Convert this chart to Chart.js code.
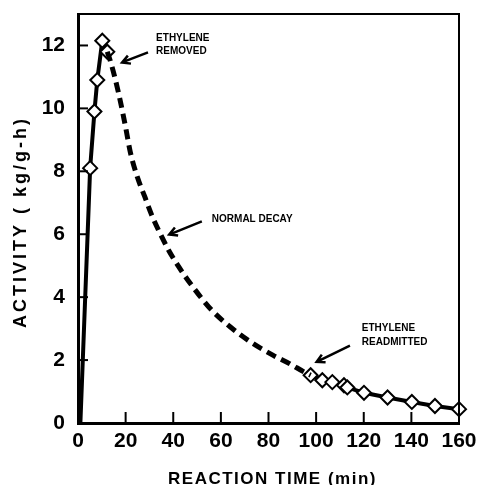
<!DOCTYPE html>
<html>
<head>
<meta charset="utf-8">
<script src="https://cdn.jsdelivr.net/npm/chart.js@4"></script>
<style>
  html, body { margin: 0; padding: 0; background: #fff; }
  #wrap { width: 484px; height: 485px; }
</style>
</head>
<body>
<div id="wrap"><canvas id="activity"></canvas></div>
<script>
// ethylene on: activity climbs
const riseTime = [1, 5.1, 6.9, 8.1, 10.2, 12.3];
const riseActivity = [0, 8.1, 9.9, 10.9, 12.15, 11.8];

// ethylene removed: normal decay (dashed)
const decayTime = [12.3, 14, 17, 20, 22, 25, 28, 31, 34, 38, 42, 48, 56, 64, 73, 82, 89, 95, 97.7];
const decayActivity = [11.8, 11.4, 10.5, 9.4, 8.6, 7.8, 7.2, 6.6, 6.1, 5.5, 5.0, 4.35, 3.6, 3.05, 2.55, 2.15, 1.88, 1.62, 1.52];

// ethylene readmitted
const readmitTime = [97.7, 102.6, 106.8, 111.7, 113.1, 120.1, 130, 140.2, 149.9, 160];
const readmitActivity = [1.52, 1.36, 1.3, 1.2, 1.13, 0.96, 0.81, 0.67, 0.54, 0.44];

const xTicks = [0, 20, 40, 60, 80, 100, 120, 140, 160];
const yTicks = [0, 2, 4, 6, 8, 10, 12];

const xTitle = "REACTION TIME (min)";
const yTitle = "ACTIVITY ( kg/g-h)";

const notes = [
  { lines: ["ETHYLENE", "REMOVED"], x: 32.8, y: 12.24, from: [29.4, 11.78], to: [18.5, 11.46] },
  { lines: ["NORMAL DECAY"], x: 56.2, y: 6.49, from: [52.0, 6.41], to: [38.3, 5.99] },
  { lines: ["ETHYLENE", "READMITTED"], x: 119.2, y: 3.0, from: [114.2, 2.46], to: [100.2, 1.94] },
];

const FONT = "'Liberation Sans', Arial, Helvetica, sans-serif";

const pts = (xs, ys) => xs.map((x, i) => ({ x: x, y: ys[i] }));

const diamond = {
  pointStyle: "rectRot",
  pointBackgroundColor: "#fff",
  pointBorderColor: "#000",
  pointBorderWidth: 2,
};

const frame = {
  id: "frame",
  afterDraw(chart) {
    const c = chart.ctx;
    const a = chart.chartArea;
    const xs = chart.scales.x;
    const ys = chart.scales.y;
    c.save();
    c.strokeStyle = "#000";
    c.fillStyle = "#000";
    // top + right box edges
    c.lineWidth = 2;
    c.beginPath();
    c.moveTo(a.left, a.top);
    c.lineTo(a.right, a.top);
    c.lineTo(a.right, a.bottom);
    c.stroke();
    // inward ticks
    yTicks.forEach((v) => {
      const y = ys.getPixelForValue(v);
      c.beginPath();
      c.moveTo(a.left, y);
      c.lineTo(a.left + 10, y);
      c.stroke();
    });
    xTicks.forEach((v) => {
      const x = xs.getPixelForValue(v);
      c.beginPath();
      c.moveTo(x, a.bottom);
      c.lineTo(x, a.bottom - 11);
      c.stroke();
    });

    // axis titles, spaced out like the original typesetting
    c.textAlign = "center";
    c.textBaseline = "middle";
    c.font = "bold 17px " + FONT;
    c.letterSpacing = "1.5px";
    c.fillText(xTitle, (a.left + a.right) / 2 + 4, 479);
    c.save();
    c.translate(21, 222);
    c.rotate(-Math.PI / 2);
    c.font = "bold 18px " + FONT;
    c.letterSpacing = "3px";
    c.fillText(yTitle, 0, 0);
    c.restore();
    c.letterSpacing = "0px";

    // annotations
    c.font = "bold 10px " + FONT;
    c.textAlign = "left";
    notes.forEach((n) => {
      const tx = xs.getPixelForValue(n.x);
      const ty = ys.getPixelForValue(n.y);
      n.lines.forEach((t, i) => c.fillText(t, tx, ty + i * 13.5));
      const x0 = xs.getPixelForValue(n.from[0]);
      const y0 = ys.getPixelForValue(n.from[1]);
      const x1 = xs.getPixelForValue(n.to[0]);
      const y1 = ys.getPixelForValue(n.to[1]);
      const ang = Math.atan2(y1 - y0, x1 - x0);
      c.lineWidth = 2.5;
      c.beginPath();
      c.moveTo(x0, y0);
      c.lineTo(x1, y1);
      c.moveTo(x1 - 9 * Math.cos(ang - 0.5), y1 - 9 * Math.sin(ang - 0.5));
      c.lineTo(x1, y1);
      c.lineTo(x1 - 9 * Math.cos(ang + 0.5), y1 - 9 * Math.sin(ang + 0.5));
      c.stroke();
    });
    c.restore();
  },
};

new Chart(document.getElementById("activity"), {
  type: "scatter",
  data: {
    datasets: [
      {
        data: pts(decayTime, decayActivity),
        showLine: true,
        borderColor: "#000",
        borderWidth: 5,
        borderDash: [10, 6],
        cubicInterpolationMode: "monotone",
        pointRadius: 0,
      },
      {
        data: pts(riseTime, riseActivity),
        showLine: true,
        borderColor: "#000",
        borderWidth: 4,
        pointRadius: [0, 7, 7, 7, 7, 7],
        ...diamond,
      },
      {
        data: pts(readmitTime, readmitActivity),
        showLine: true,
        borderColor: "#000",
        borderWidth: 4,
        pointRadius: 7,
        ...diamond,
      },
    ],
  },
  options: {
    responsive: true,
    maintainAspectRatio: false,
    animation: false,
    clip: false,
    layout: { padding: { top: 14, right: 25, left: 0, bottom: 0 } },
    plugins: { legend: { display: false }, tooltip: { enabled: false } },
    scales: {
      x: {
        type: "linear",
        min: 0,
        max: 160,
        afterFit: (s) => {
          s.height = 62;
          s.paddingLeft = 0;
          s.paddingRight = 0;
        },
        afterBuildTicks: (s) => { s.ticks = xTicks.map((v) => ({ value: v })); },
        grid: { drawOnChartArea: false, drawTicks: false },
        border: { display: true, color: "#000", width: 3 },
        ticks: { color: "#000", padding: 6, maxRotation: 0, font: { family: FONT, size: 21, weight: "bold" } },
      },
      y: {
        type: "linear",
        min: 0,
        max: 13,
        afterFit: (s) => {
          s.width = 78;
          s.paddingTop = 0;
          s.paddingBottom = 0;
        },
        afterBuildTicks: (s) => { s.ticks = yTicks.map((v) => ({ value: v })); },
        grid: { drawOnChartArea: false, drawTicks: false },
        border: { display: true, color: "#000", width: 3 },
        ticks: { color: "#000", padding: 13, font: { family: FONT, size: 21, weight: "bold" } },
      },
    },
  },
  plugins: [frame],
});
</script>
</body>
</html>
